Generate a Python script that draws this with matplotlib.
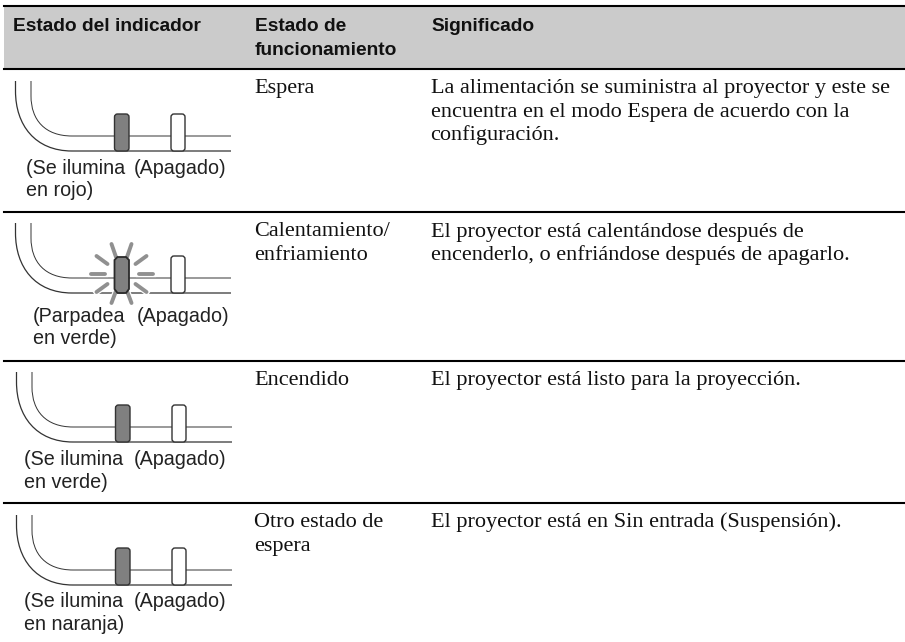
import matplotlib
matplotlib.use("Agg")
import matplotlib.pyplot as plt
from matplotlib.patches import FancyBboxPatch, PathPatch, Polygon, Rectangle
from matplotlib.path import Path

headers = [["Estado del indicador"], ["Estado de", "funcionamiento"], ["Significado"]]
states = ["Espera", "Calentamiento/\nenfriamiento", "Encendido", "Otro estado de\nespera"]
meanings = [
    "La alimentación se suministra al proyector y este se\nencuentra en el modo Espera de acuerdo con la\nconfiguración.",
    "El proyector está calentándose después de\nencenderlo, o enfriándose después de apagarlo.",
    "El proyector está listo para la proyección.",
    "El proyector está en Sin entrada (Suspensión).",
]
led_labels = ["(Se ilumina", "(Parpadea", "(Se ilumina", "(Se ilumina"]
led_colours = ["en rojo)", "en verde)", "en verde)", "en naranja)"]
off_label = "(Apagado)"

row_lines = [68.5, 212, 360.5, 502.5]
icon_tops = [81, 223, 372, 515]
icon_shift = [0, 0, 1, 1]
label_x = [26, 33, 24, 24]
off_x = [134, 137, 134, 134]
label_y = [173.5, 322, 465, 607]

fig = plt.figure(figsize=(9.05, 6.42), dpi=100)
ax = fig.add_axes([0, 0, 1, 1])
ax.set_xlim(0, 905)
ax.set_ylim(642, 0)
ax.axis("off")

# header band
ax.add_patch(Rectangle((4, 6), 901, 62, fc="#cbcbcb", ec="none"))
ax.plot([4, 905], [6, 6], c="black", lw=1.5)
for y in row_lines:
    ax.plot([4, 905], [y, y], c="black", lw=1.5)

for lines, x in zip(headers, [13, 255, 431]):
    for i, s in enumerate(lines):
        ax.text(x, 31 + i * 24, s, family="Liberation Sans", weight="bold", fontsize=13.8,
                va="baseline", color="#111111")

def draw_icon(top, dx, blink):
    bottom = top + 70
    line = "#333333"
    curve = [Path.MOVETO, Path.LINETO, Path.CURVE4, Path.CURVE4, Path.CURVE4, Path.LINETO]
    outer = Path([(15.5 + dx, top), (15.5 + dx, top + 10), (15.5 + dx, top + 44), (35 + dx, bottom),
                  (72 + dx, bottom), (231 + dx, bottom)], curve)
    inner = Path([(31 + dx, top), (31 + dx, top + 15), (31 + dx, top + 39), (45 + dx, top + 55),
                  (72 + dx, top + 55), (231 + dx, top + 55)], curve)
    ax.add_patch(PathPatch(outer, fc="none", ec=line, lw=0.9))
    ax.add_patch(PathPatch(inner, fc="none", ec=line, lw=0.7))
    if blink:
        cx = 121.5 + dx
        cy = top + 51
        rays = [(-31, 0, -17, 0), (17, 0, 31, 0), (-25, -18, -14, -10), (14, -10, 25, -18),
                (-25, 18, -14, 10), (14, 10, 25, 18), (-10, -30, -5.5, -17), (10, -30, 5.5, -17),
                (-10, 29, -5.5, 17), (10, 29, 5.5, 17)]
        # white casing so the rays break the lines behind them
        for x0, y0, x1, y1 in rays:
            ax.plot([cx + x0, cx + x1], [cy + y0, cy + y1], c="white", lw=4.5, zorder=3)
        for x0, y0, x1, y1 in rays:
            ax.plot([cx + x0, cx + x1], [cy + y0, cy + y1], c="#909090", lw=2.8, solid_capstyle="round", zorder=4)
        pts = [(114.5, top + 37), (117.5, top + 34), (126, top + 34), (129, top + 37),
               (129, bottom - 4), (126, bottom), (117.5, bottom), (114.5, bottom - 4)]
        ax.add_patch(Polygon(pts, fc="#808080", ec="#2a2a2a", lw=1.3, zorder=5))
    else:
        ax.add_patch(FancyBboxPatch((114.5 + dx, top + 33), 14.5, bottom - top - 33,
                                    boxstyle="round,pad=0,rounding_size=3", fc="#808080", ec="#333333", lw=1.0, zorder=3))
    ax.add_patch(FancyBboxPatch((171 + dx, top + 33), 14, bottom - top - 33, boxstyle="round,pad=0,rounding_size=3",
                                fc="white", ec="#333333", lw=1.0, zorder=3))

for i in range(4):
    draw_icon(icon_tops[i], icon_shift[i], i == 1)
    ax.text(label_x[i], label_y[i], led_labels[i], family="Liberation Sans", fontsize=14.2, color="#222222", va="baseline")
    ax.text(off_x[i], label_y[i], off_label, family="Liberation Sans", fontsize=14.2, color="#222222", va="baseline")
    ax.text(label_x[i], label_y[i] + 22.5, led_colours[i], family="Liberation Sans", fontsize=14.2, color="#222222", va="baseline")
    base = row_lines[i] + 24.5
    for j, s in enumerate(states[i].split("\n")):
        ax.text(254, base + j * 23.6, s, family="Liberation Serif", fontsize=16, color="#111111", va="baseline")
    for j, s in enumerate(meanings[i].split("\n")):
        ax.text(430.5, base + j * 23.6, s, family="Liberation Serif", fontsize=16, color="#111111", va="baseline")

fig.savefig("out.png", dpi=100)
